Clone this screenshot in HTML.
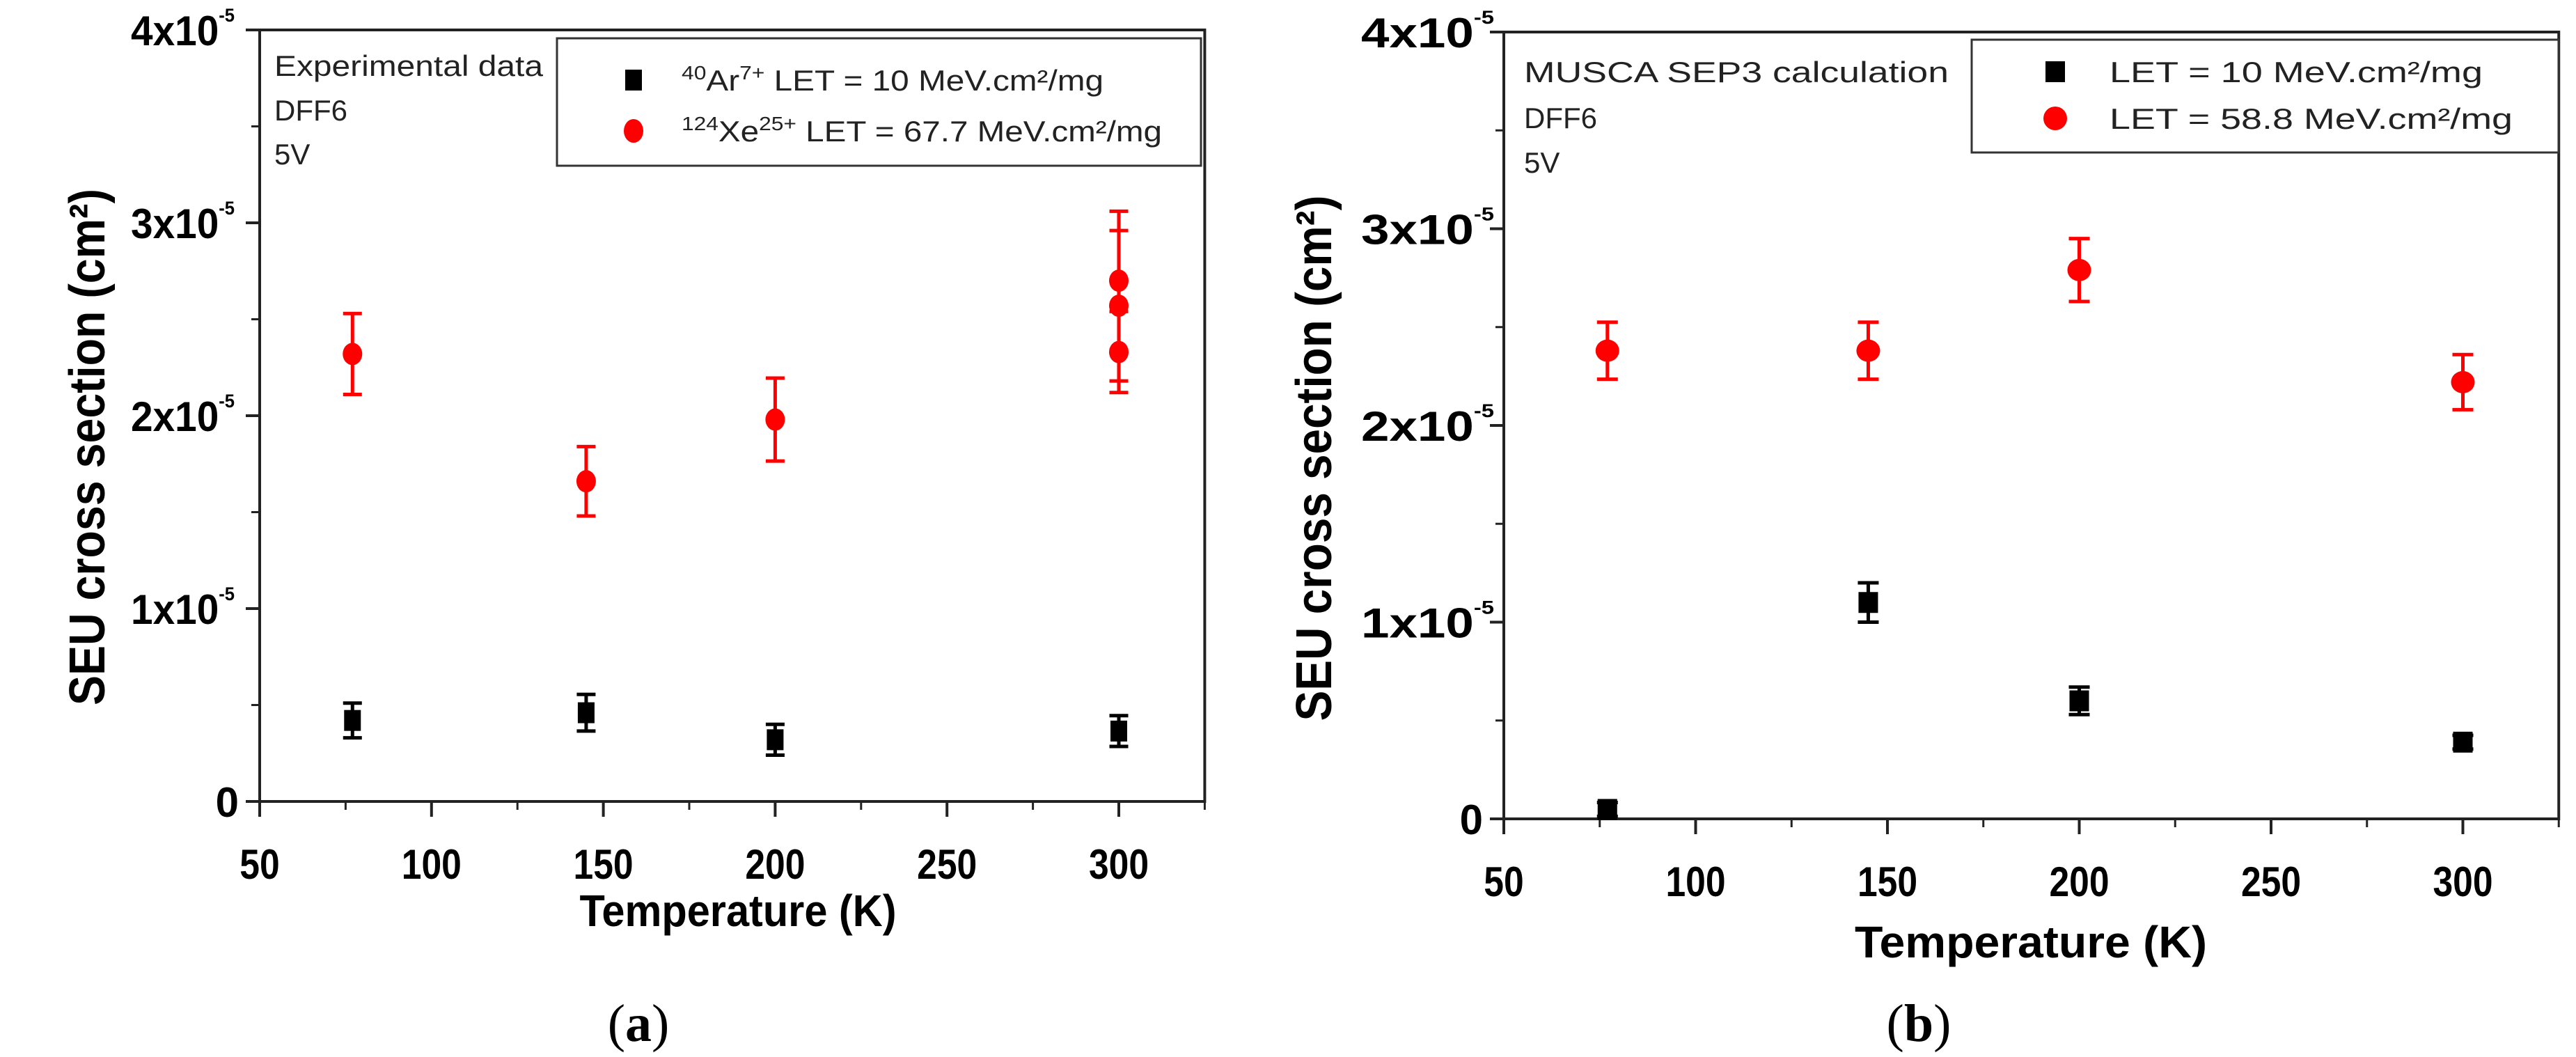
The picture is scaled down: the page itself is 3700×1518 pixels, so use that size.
<!DOCTYPE html>
<html><head><meta charset="utf-8"><style>
html,body{margin:0;padding:0;background:#fff;}
svg{display:block;}
text{font-family:"Liberation Sans",Arial,sans-serif;}
</style></head><body>
<svg id="fig" width="3700" height="1518" viewBox="0 0 3700 1518" xmlns="http://www.w3.org/2000/svg">
<rect width="3700" height="1518" fill="#fff"/>
<g id="pa"></g>
<g id="pb"></g>
</svg>
<script>
// ---- Panel (a) data (units: 1e-5 cm²) ----
const aArTemps = [77, 145, 200, 300];
const aArVals = [0.42, 0.46, 0.32, 0.365];
const aArErr = [0.09, 0.095, 0.08, 0.08];
const aXeTemps = [77, 145, 200, 300, 300, 300];
const aXeVals = [2.32, 1.66, 1.98, 2.70, 2.57, 2.33];
const aXeErr = [0.21, 0.18, 0.215, 0.36, 0.39, 0.21];
// ---- Panel (b) data ----
const bArTemps = [77, 145, 200, 300];
const bArVals = [0.048, 1.10, 0.60, 0.39];
const bArErr = [0.035, 0.10, 0.07, 0.035];
const bXeTemps = [77, 145, 200, 300];
const bXeVals = [2.38, 2.38, 2.79, 2.22];
const bXeErr = [0.145, 0.145, 0.16, 0.14];
// ---- axes ----
const xTicks = [50, 100, 150, 200, 250, 300];
const xMinor = [75, 125, 175, 225, 275, 325];
const yTicks = [0, 1, 2, 3, 4];
const yTickLabels = ["0", "1x10", "2x10", "3x10", "4x10"];
const yMinor = [0.5, 1.5, 2.5, 3.5];

const NS = "http://www.w3.org/2000/svg";
function mk(parent, tag, attrs, txt) {
  const e = document.createElementNS(NS, tag);
  for (const k in attrs) e.setAttribute(k, attrs[k]);
  if (txt !== undefined) e.textContent = txt;
  parent.appendChild(e);
  return e;
}

function panel(g, P) {
  const sx = v => P.left + (v - 50) / 50 * P.px50;
  const sy = v => P.bottom - v * P.pyU;
  const right = sx(325), top = sy(4);
  const frame = mk(g, 'rect', {x: P.left, y: top, width: right - P.left, height: P.bottom - top, fill: 'none', stroke: '#222', 'stroke-width': 4});
  
  
  xTicks.forEach(t => {
    const l = mk(g, 'line', {x1: sx(t), x2: sx(t), y1: P.bottom, y2: P.bottom + 22, stroke: '#222', 'stroke-width': 4});
    
    
    const tx = mk(g, 'text', {x: sx(t), y: P.bottom + 111, 'font-size': 60, 'font-weight': 'bold', 'text-anchor': 'middle', transform: `translate(${sx(t)},0) scale(0.86,1) translate(${-sx(t)},0)`}, String(t));
    
    
  });
  xMinor.forEach(t => {
    const l = mk(g, 'line', {x1: sx(t), x2: sx(t), y1: P.bottom, y2: P.bottom + 12, stroke: '#222', 'stroke-width': 3});
    
    
  });
  yTicks.forEach((t, i) => {
    const l = mk(g, 'line', {x1: P.left - 20, x2: P.left, y1: sy(t), y2: sy(t), stroke: '#222', 'stroke-width': 4});
    
    
    const lab = mk(g, 'text', {x: P.labRight, y: sy(t) + 22, 'font-size': 60, 'font-weight': 'bold', 'text-anchor': 'end'});
    
    
    if (t === 0) {
      lab.setAttribute('x', P.left - 30);
      lab.textContent = yTickLabels[i];
    } else {
      mk(lab, 'tspan', {}, yTickLabels[i]);
      mk(lab, 'tspan', {'font-size': 27, dy: -34}, '-5');
      lab.setAttribute('textLength', P.labRight - P.labLeft);
      lab.setAttribute('lengthAdjust', 'spacingAndGlyphs');
    }
  });
  yMinor.forEach(t => {
    const l = mk(g, 'line', {x1: P.left - 12, x2: P.left, y1: sy(t), y2: sy(t), stroke: '#222', 'stroke-width': 3});
    
    
  });
  const xt = mk(g, 'text', {x: P.xtX, y: P.xtY, 'font-size': 64, 'font-weight': 'bold', 'text-anchor': 'middle', textLength: P.xtW, lengthAdjust: 'spacingAndGlyphs'}, 'Temperature (K)');
  
  
  const yt = mk(g, 'text', {x: 0, y: 0, 'font-size': 72, 'font-weight': 'bold', 'text-anchor': 'middle', textLength: P.ytL, lengthAdjust: 'spacingAndGlyphs', transform: `translate(${P.ytX},${P.ytY}) rotate(-90)`});
  
  
  yt.textContent = 'SEU cross section (cm²)';
  P.notes.forEach((s, i) => {
    const t = mk(g, 'text', {x: P.noteX, y: P.noteY[i], 'font-size': 42, fill: '#222'}, s);
    if (i === 0) { t.setAttribute('textLength', P.noteW); t.setAttribute('lengthAdjust', 'spacingAndGlyphs'); }
    
    
  });
  const lg = mk(g, 'g', {});
  
  
  mk(lg, 'rect', {x: P.lg.x, y: P.lg.y, width: P.lg.w, height: P.lg.h, fill: '#fff', stroke: '#333', 'stroke-width': 3});
  const sq = mk(lg, 'rect', {x: P.lg.mx - P.sqW / 2, y: P.lg.r1 - 15, width: P.sqW, height: 30, fill: '#000'});
  
  
  const ci = mk(lg, 'ellipse', {cx: P.lg.mx, cy: P.lg.r2, rx: P.crx, ry: 17, fill: '#f00'});
  
  
  const l1 = mk(lg, 'text', {x: P.lg.tx, y: P.lg.r1 + 15, 'font-size': 42, fill: '#222', textLength: P.lg.w1, lengthAdjust: 'spacingAndGlyphs'});
  
  
  P.leg1(l1);
  const l2 = mk(lg, 'text', {x: P.lg.tx, y: P.lg.r2 + 15, 'font-size': 42, fill: '#222', textLength: P.lg.w2, lengthAdjust: 'spacingAndGlyphs'});
  
  
  P.leg2(l2);
  function series(temps, vals, errs, color, kind, name) {
    const sg = mk(g, 'g', {});
    
    
    temps.forEach((T, i) => {
      const x = sx(T), y = sy(vals[i]), y1 = sy(vals[i] + errs[i]), y2 = sy(vals[i] - errs[i]);
      const eb = mk(sg, 'path', {d: `M${x},${y1}V${y2}M${x - P.cap / 2},${y1}H${x + P.cap / 2}M${x - P.cap / 2},${y2}H${x + P.cap / 2}`, stroke: color, 'stroke-width': 5, fill: 'none'});
      
      
      let m;
      if (kind === 'sq') m = mk(sg, 'rect', {x: x - P.sqW / 2, y: y - 15, width: P.sqW, height: 30, fill: color});
      else m = mk(sg, 'ellipse', {cx: x, cy: y, rx: P.crx, ry: 16, fill: color});
      
      
    });
  }
  series(P.xe[0], P.xe[1], P.xe[2], '#f00', 'ci', 'series-high-let');
  series(P.ar[0], P.ar[1], P.ar[2], '#000', 'sq', 'series-low-let');
  const pl = mk(g, 'text', {x: P.plX, y: 1495, 'font-size': 76, 'text-anchor': 'middle', style: 'font-family:"Liberation Serif",serif'});
  
  
  mk(pl, 'tspan', {}, '(');
  mk(pl, 'tspan', {'font-weight': 'bold'}, P.plLetter);
  mk(pl, 'tspan', {}, ')');
}

function supText(el, parts) {
  parts.forEach(p => {
    if (p[1] === 'sup') mk(el, 'tspan', {'font-size': 28, dy: -16}, p[0]);
    else if (p[1] === 'down') mk(el, 'tspan', {dy: 16}, p[0]);
    else mk(el, 'tspan', {}, p[0]);
  });
}

panel(document.getElementById('pa'), {
  left: 373, bottom: 1151, px50: 246.8, pyU: 277,
  labLeft: 188, labRight: 337,
  xtX: 1060, xtY: 1330, xtW: 455,
  ytX: 150, ytY: 642, ytL: 742,
  notes: ['Experimental data', 'DFF6', '5V'], noteX: 394, noteY: [109, 173, 236], noteW: 386,
  lg: {x: 800, y: 55, w: 925, h: 183, mx: 910, r1: 115, r2: 188, tx: 979, w1: 606, w2: 690},
  leg1: el => supText(el, [['40', 'sup'], ['Ar', 'down'], ['7+', 'sup'], [' LET = 10 MeV.cm²/mg', 'down']]),
  leg2: el => supText(el, [['124', 'sup'], ['Xe', 'down'], ['25+', 'sup'], [' LET = 67.7 MeV.cm²/mg', 'down']]),
  sqW: 24, crx: 14, cap: 27,
  xe: [aXeTemps, aXeVals, aXeErr], ar: [aArTemps, aArVals, aArErr],
  plX: 917, plLetter: 'a'
});
panel(document.getElementById('pb'), {
  left: 2160, bottom: 1176, px50: 275.5, pyU: 282.5,
  labLeft: 1955, labRight: 2146,
  xtX: 2917, xtY: 1375, xtW: 506,
  ytX: 1912, ytY: 658, ytL: 755,
  notes: ['MUSCA SEP3 calculation', 'DFF6', '5V'], noteX: 2189, noteY: [118, 184, 248], noteW: 610,
  lg: {x: 2832, y: 57, w: 843, h: 162, mx: 2952, r1: 103, r2: 170, tx: 3030, w1: 536, w2: 579},
  leg1: el => { el.textContent = 'LET = 10 MeV.cm²/mg'; },
  leg2: el => { el.textContent = 'LET = 58.8 MeV.cm²/mg'; },
  sqW: 28, crx: 17, cap: 30,
  xe: [bXeTemps, bXeVals, bXeErr], ar: [bArTemps, bArVals, bArErr],
  plX: 2756, plLetter: 'b'
});
</script>
</body></html>
